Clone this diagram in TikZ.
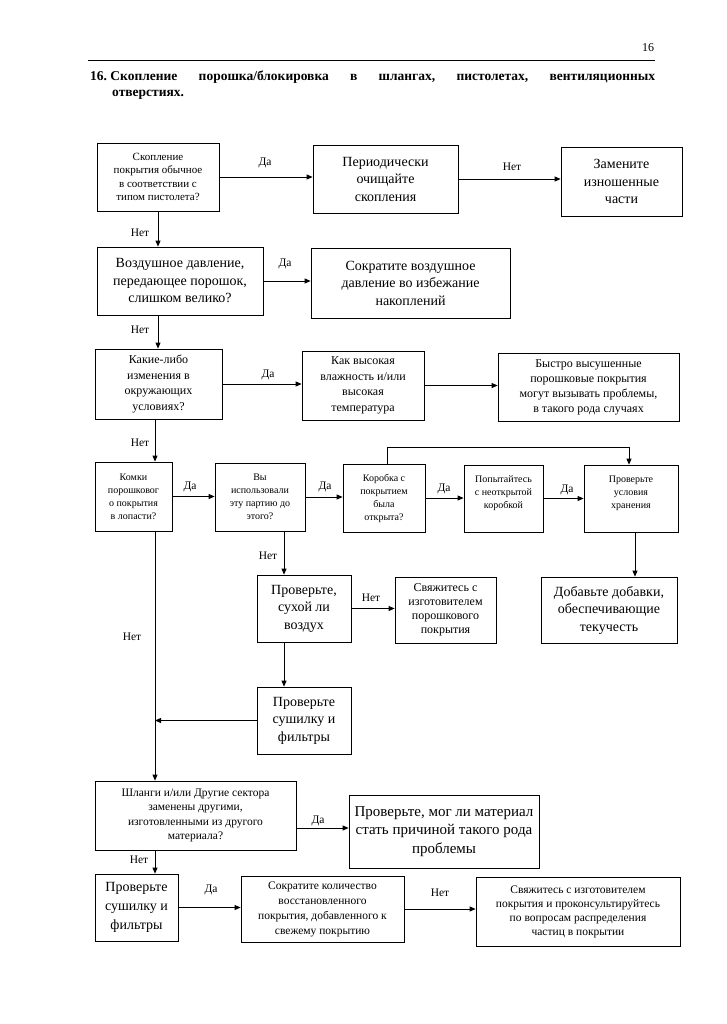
\documentclass[tikz,border=0pt]{standalone}
\usepackage{fontspec}
\setmainfont{Liberation Serif}
\usetikzlibrary{arrows.meta}
\tikzset{
  box/.style={draw, line width=0.8pt, align=center, inner sep=1pt},
  arr/.style={line width=0.8pt, -{Triangle[length=6pt,width=5pt]}},
  ln/.style={line width=0.8pt},
  lbl/.style={font=\fontsize{11.5}{13}\selectfont, inner sep=0pt},
  fA/.style={font=\fontsize{14}{17.5}\selectfont},
  fB/.style={font=\fontsize{12}{15.5}\selectfont},
  fC/.style={font=\fontsize{11}{13.5}\selectfont},
  fD/.style={font=\fontsize{10}{13}\selectfont},
}
\begin{document}
\begin{tikzpicture}[x=1pt,y=-1pt]
\useasboundingbox[fill=white] (0,0) rectangle (727,1024);
% header
\node[font=\fontsize{12}{14}\selectfont] (pg) at (648,48) {16};
\coordinate (hl) at (88,61);
\coordinate (hr) at (655,61);
\draw[line width=1pt] (hl) -- (hr);
\node[anchor=base west, inner sep=0pt, font=\bfseries\fontsize{13.5}{16}\selectfont] (t1) at (90,81)
  {\hbox to 565pt{16.\ Скопление\hfill порошка/блокировка\hfill в\hfill шлангах,\hfill пистолетах,\hfill вентиляционных}};
\node[anchor=base west, inner sep=0pt, font=\bfseries\fontsize{13.5}{16}\selectfont] (t2) at (112,97) {отверстиях.};

% row 1
\node[box,fC,minimum width=122pt,minimum height=68pt] (A1) at (158,177) {Скопление\\покрытия обычное\\в соответствии с\\типом пистолета?};
\node[box,fA,minimum width=145pt,minimum height=68pt] (A2) at (385.5,179) {Периодически\\очищайте\\скопления};
\node[box,fA,minimum width=121pt,minimum height=69pt] (A3) at (621.5,181.5) {Замените\\изношенные\\части};
% row 2
\node[box,fA,minimum width=166pt,minimum height=68pt] (B1) at (180,281) {Воздушное давление,\\передающее порошок,\\слишком велико?};
\node[box,fA,minimum width=199pt,minimum height=70pt] (B2) at (410.5,283) {Сократите воздушное\\давление во избежание\\накоплений};
% row 3
\node[box,fB,minimum width=127pt,minimum height=70pt] (C1) at (158.5,384) {Какие-либо\\изменения в\\окружающих\\условиях?};
\node[box,fB,minimum width=122pt,minimum height=69pt] (C2) at (363,385.5) {Как высокая\\влажность и/или\\высокая\\температура};
\node[box,font=\fontsize{12}{15}\selectfont,minimum width=181pt,minimum height=68pt] (C3) at (588.5,387) {Быстро высушенные\\порошковые покрытия\\могут вызывать проблемы,\\в такого рода случаях};
% row 4
\node[box,fD,minimum width=77pt,minimum height=69pt] (D1) at (133.5,496.5) {Комки\\порошковог\\о покрытия\\в лопасти?};
\node[box,fD,minimum width=90pt,minimum height=68pt] (D2) at (260,497) {Вы\\использовали\\эту партию до\\этого?};
\node[box,fD,minimum width=82pt,minimum height=68pt] (D3) at (384,498) {Коробка с\\покрытием\\была\\открыта?};
\node[box,fD,minimum width=79pt,minimum height=67pt] (D4) at (503.5,498.5) {Попытайтесь\\с неоткрытой\\коробкой\\\mbox{}};
\node[box,fD,minimum width=94pt,minimum height=67pt] (D5) at (631,498.5) {Проверьте\\условия\\хранения\\\mbox{}};
% row 5
\node[box,fA,minimum width=94pt,minimum height=67pt] (E1) at (304,608.5) {Проверьте,\\сухой ли\\воздух};
\node[box,font=\fontsize{12}{14}\selectfont,minimum width=101pt,minimum height=66pt] (E2) at (445.5,610) {Свяжитесь с\\изготовителем\\порошкового\\покрытия};
\node[box,fA,minimum width=136pt,minimum height=66pt] (E3) at (609,610) {Добавьте добавки,\\обеспечивающие\\текучесть};
\node[box,fA,minimum width=94pt,minimum height=67pt] (F1) at (304,720.5) {Проверьте\\сушилку и\\фильтры};
% row 6
\node[box,font=\fontsize{11.5}{14.5}\selectfont,minimum width=201pt,minimum height=69pt] (G1) at (195.5,815.5) {Шланги и/или Другие сектора\\заменены другими,\\изготовленными из другого\\материала?};
\node[box,font=\fontsize{15}{18.5}\selectfont,minimum width=190pt,minimum height=73pt] (G2) at (444,831.5) {Проверьте, мог ли материал\\стать причиной такого рода\\проблемы};
% row 7
\node[box,font=\fontsize{14}{19}\selectfont,minimum width=83pt,minimum height=67pt] (H1) at (136.5,907.5) {Проверьте\\сушилку и\\фильтры};
\node[box,font=\fontsize{11.5}{15}\selectfont,minimum width=163pt,minimum height=66pt] (H2) at (322.5,909) {Сократите количество\\восстановленного\\покрытия, добавленного к\\свежему покрытию};
\node[box,font=\fontsize{11.5}{14}\selectfont,minimum width=204pt,minimum height=69pt] (H3) at (578,911.5) {Свяжитесь с изготовителем\\покрытия и проконсультируйтесь\\по вопросам распределения\\частиц в покрытии};

% helper coordinates
\coordinate (v) at (155,0);
\coordinate (u) at (158,0);
\coordinate (w) at (284,0);
\coordinate (lt) at (0,447);
\coordinate (gy) at (0,828);

% connectors
\draw[arr] (A1.east) -- (A1.east -| A2.west);
\draw[arr] (A2.east) -- (A2.east -| A3.west);
\draw[arr] (u |- A1.south) -- (u |- B1.north);
\draw[arr] (B1.east) -- (B1.east -| B2.west);
\draw[arr] (u |- B1.south) -- (u |- C1.north);
\draw[arr] (C1.east) -- (C1.east -| C2.west);
\draw[arr] (C2.east) -- (C2.east -| C3.west);
\draw[arr] (v |- C1.south) -- (v |- D1.north);
\draw[arr] (D1.east) -- (D1.east -| D2.west);
\draw[arr] (D2.east) -- (D2.east -| D3.west);
\draw[arr] (D3.east) -- (D3.east -| D4.west);
\draw[arr] (D4.east) -- (D4.east -| D5.west);
\draw[arr] ([xshift=3pt]D3.north) -- ([xshift=3pt]D3.north |- lt) -| ([xshift=-2pt]D5.north);
\draw[arr] ([xshift=4pt]D5.south) -- ([xshift=4pt]D5.south |- E3.north);
\draw[arr] (w |- D2.south) -- (w |- E1.north);
\draw[arr] (E1.east) -- (E1.east -| E2.west);
\draw[arr] (w |- E1.south) -- (w |- F1.north);
\draw[arr] (F1.west) -- (v |- F1.west);
\draw[arr] (v |- D1.south) -- (v |- G1.north);
\draw[arr] (G1.east |- gy) -- (G2.west |- gy);
\draw[arr] (v |- G1.south) -- (v |- H1.north);
\draw[arr] (H1.east) -- (H1.east -| H2.west);
\draw[arr] (H2.east) -- (H2.east -| H3.west);

% labels
\node[lbl] (l1) at (265,163) {Да};
\node[lbl] (l2) at (512,167) {Нет};
\node[lbl] (l3) at (140,233) {Нет};
\node[lbl] (l4) at (285,264) {Да};
\node[lbl] (l5) at (140,330) {Нет};
\node[lbl] (l6) at (268,375) {Да};
\node[lbl] (l7) at (140,443) {Нет};
\node[lbl] (l8) at (190,487) {Да};
\node[lbl] (l9) at (325,487) {Да};
\node[lbl] (l10) at (444,489) {Да};
\node[lbl] (l11) at (567,490) {Да};
\node[lbl] (l12) at (268,556) {Нет};
\node[lbl] (l13) at (371,598) {Нет};
\node[lbl] (l14) at (132,637) {Нет};
\node[lbl] (l15) at (318,821) {Да};
\node[lbl] (l16) at (139,860) {Нет};
\node[lbl] (l17) at (211,890) {Да};
\node[lbl] (l18) at (440,893) {Нет};
\end{tikzpicture}
\end{document}
